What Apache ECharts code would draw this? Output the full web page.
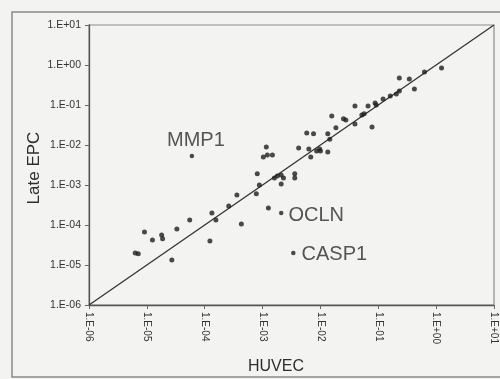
<!DOCTYPE html>
<html>
<head>
<meta charset="utf-8">
<script src="https://cdn.jsdelivr.net/npm/echarts@6/dist/echarts.min.js"></script>
<style>
html,body{margin:0;padding:0;background:#f3f3f1;}
#c{width:500px;height:379px;}
</style>
</head>
<body>
<div id="c"></div>
<script>
// HUVEC (x) vs Late EPC (y) expression values
const huvec = [6.3e-6, 7.1e-6, 9.1e-6, 1.25e-5, 1.8e-5, 1.87e-5, 2.7e-5, 3.3e-5, 5.5e-5,
  1.23e-4, 1.33e-4, 1.56e-4, 2.6e-4, 3.6e-4, 4.3e-4, 7.8e-4, 8.8e-4, 8.1e-4,
  1.16e-3, 1.03e-3, 1.21e-3, 1.48e-3, 1.6e-3, 1.8e-3, 2.1e-3, 2.3e-3, 2.1e-3, 3.6e-3, 3.6e-3,
  4.2e-3, 5.8e-3, 7.6e-3, 6.3e-3, 6.8e-3, 8.6e-3, 9.7e-3, 1.0e-2, 1.34e-2, 1.34e-2, 1.45e-2,
  1.85e-2, 1.57e-2, 2.5e-2, 2.75e-2, 3.95e-2, 3.95e-2, 5.2e-2, 5.7e-2, 6.65e-2, 7.8e-2,
  8.8e-2, 9.2e-2, 0.121, 0.161, 0.205, 0.231, 0.231, 0.344, 0.421, 0.628, 1.24, 1.26e-3];
const lateEpc = [2.0e-5, 1.9e-5, 6.7e-5, 4.2e-5, 5.6e-5, 4.5e-5, 1.33e-5, 7.9e-5, 1.33e-4,
  4.0e-5, 2.0e-4, 1.33e-4, 3.0e-4, 5.6e-4, 1.06e-4, 6.0e-4, 1.0e-3, 1.9e-3,
  8.9e-3, 5.0e-3, 5.6e-3, 5.6e-3, 1.5e-3, 1.68e-3, 1.78e-3, 1.5e-3, 1.06e-3, 1.9e-3, 1.5e-3,
  8.4e-3, 2.0e-2, 1.9e-2, 7.9e-3, 5.0e-3, 7.1e-3, 7.9e-3, 7.1e-3, 6.7e-3, 1.9e-2, 1.4e-2,
  2.7e-2, 5.3e-2, 4.5e-2, 4.2e-2, 9.4e-2, 3.35e-2, 5.6e-2, 6.0e-2, 9.4e-2, 2.8e-2,
  0.112, 0.1, 0.141, 0.168, 0.188, 0.224, 0.473, 0.447, 0.251, 0.668, 0.841, 2.66e-4];

// labelled genes
const geneNames = ['MMP1', 'OCLN', 'CASP1'];
const geneHuvec = [6.0e-5, 2.1e-3, 3.4e-3];
const geneLateEpc = [5.3e-3, 2.0e-4, 2.0e-5];

// identity line
const lineX = [1e-6, 10];
const lineY = [1e-6, 10];

// tick labels (decades 1E-06 .. 1E+01)
const tickLabels = ['1.E-06', '1.E-05', '1.E-04', '1.E-03', '1.E-02', '1.E-01', '1.E+00', '1.E+01'];

const FONT = 'Liberation Sans, Arial, sans-serif';
const fmt = v => tickLabels[Math.round(Math.log10(v)) + 6];

const labelPos = [
  {position: 'top', distance: 3, offset: [4, 0]},
  {position: 'right', distance: 5, offset: [0, 3]},
  {position: 'right', distance: 6, offset: [0, 2]}
];

const chart = echarts.init(document.getElementById('c'), null, {renderer: 'canvas'});
chart.setOption({
  backgroundColor: '#f3f3f1',
  animation: false,
  grid: {left: 89, top: 25, width: 405, height: 280, show: true,
    borderColor: '#8c8c8c', borderWidth: 1.2, backgroundColor: 'transparent'},
  xAxis: {
    type: 'log', logBase: 10, min: 1e-6, max: 10, interval: 1,
    axisLine: {lineStyle: {color: '#555', width: 1.3}},
    axisTick: {show: true, length: 4, lineStyle: {color: '#666'}},
    splitLine: {show: false},
    axisLabel: {formatter: fmt, rotate: -90, fontSize: 10, color: '#333',
      fontFamily: FONT, margin: 7}
  },
  yAxis: {
    type: 'log', logBase: 10, min: 1e-6, max: 10, interval: 1,
    axisLine: {lineStyle: {color: '#555', width: 1.3}},
    axisTick: {show: true, length: 4, lineStyle: {color: '#666'}},
    splitLine: {show: false},
    axisLabel: {formatter: fmt, fontSize: 10.5, color: '#333', fontFamily: FONT, margin: 8}
  },
  series: [
    {
      type: 'line', data: lineX.map((x, i) => [x, lineY[i]]),
      symbol: 'none', lineStyle: {color: '#333', width: 1.3}, z: 2
    },
    {
      type: 'scatter', data: huvec.map((x, i) => [x, lateEpc[i]]),
      symbolSize: 5, itemStyle: {color: '#1e1e1e'}, z: 3
    },
    {
      type: 'scatter',
      data: geneNames.map((n, i) => ({
        name: n, value: [geneHuvec[i], geneLateEpc[i]],
        label: Object.assign({show: true, formatter: '{b}'}, labelPos[i])
      })),
      symbolSize: 4.5, itemStyle: {color: '#1e1e1e'}, z: 3,
      label: {fontSize: 20, color: '#2c2c2c', fontFamily: FONT}
    }
  ],
  graphic: [
    {type: 'rect', shape: {x: 12, y: 12, width: 500, height: 365},
      style: {fill: 'none', stroke: '#8a8a8a', lineWidth: 1.5}, silent: true},
    {type: 'text', x: 276, y: 367, style: {text: 'HUVEC', fontSize: 16, fill: '#2e2e2e',
      fontFamily: FONT, align: 'center', verticalAlign: 'middle'}},
    {type: 'text', x: 34, y: 168, rotation: Math.PI / 2, style: {text: 'Late EPC', fontSize: 17,
      fill: '#2e2e2e', fontFamily: FONT, align: 'center', verticalAlign: 'middle'}}
  ]
});
</script>
</body>
</html>
